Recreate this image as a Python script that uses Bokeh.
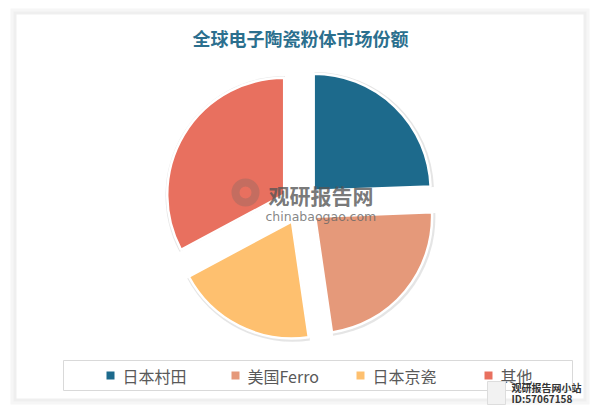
import numpy as np
from bokeh.plotting import figure
from bokeh.models import Range1d
from bokeh.core.properties import value
from bokeh.embed import file_html
from bokeh.resources import INLINE

title = "全球电子陶瓷粉体市场份额"
categories = ["日本村田", "美国Ferro", "日本京瓷", "其他"]
shares = [24.4, 23.3, 19.5, 32.8]
colors = ["#1d6a8c", "#e5997a", "#fec06f", "#e8705f"]
watermark_main = "观研报告网"
watermark_sub = "chinabaogao.com"
corner_lines = ["观研报告网小站", "ID:57067158"]

FONT = "Noto Sans CJK SC"
W, H = 592, 405
p = figure(width=W, height=H, x_range=Range1d(0, W), y_range=Range1d(413 - H, 413),
           output_backend="svg", toolbar_location=None, min_border=0,
           x_axis_location=None, y_axis_location=None)
p.grid.visible = False
p.outline_line_color = None
p.background_fill_color = "white"
p.border_fill_color = "white"


def Y(py):
    return 413 - py


# card with soft shadow
p.quad(left=[10], right=[589], top=[Y(8)], bottom=[Y(404)], fill_color="#f6f6f6", line_color=None)
p.quad(left=[13], right=[586], top=[Y(11)], bottom=[Y(401)], fill_color="#efefef", line_color=None)
p.quad(left=[16], right=[583], top=[Y(14)], bottom=[Y(398)], fill_color="white", line_color=None)

# title
p.text(x=[300], y=[Y(37)], text=[title], text_align="center", text_baseline="middle",
       text_font=value(FONT), text_font_style="bold", text_font_size="18px", text_color="#2b6f8e")

# exploded pie
fr = np.array(shares, dtype=float) / np.sum(shares)
cum = np.concatenate([[0.0], np.cumsum(fr)])
start = np.pi / 2 - cum[:-1] * 2 * np.pi
end = np.pi / 2 - cum[1:] * 2 * np.pi
mid = (start + end) / 2
cx, cy, r, d = 300, Y(204), 117, 19
xs = cx + d * np.cos(mid)
ys = cy + d * np.sin(mid)

p.wedge(x=xs + 0.8, y=ys - 0.8, radius=r + 2.5, start_angle=start, end_angle=end, direction="clock",
        fill_color="#cfcfcf", fill_alpha=0.55, line_color=None)
p.wedge(x=xs, y=ys, radius=r, start_angle=start, end_angle=end, direction="clock",
        fill_color=colors, line_color="white", line_width=2.5)

# watermark
p.annulus(x=[245], y=[Y(192)], inner_radius=6, outer_radius=14, fill_color="#9a6b62", fill_alpha=0.45, line_color=None)
p.text(x=[268], y=[Y(194)], text=[watermark_main], text_align="left", text_baseline="middle",
       text_font=value(FONT), text_font_style="bold", text_font_size="21px", text_color="#555555", text_alpha=0.8)
p.text(x=[265], y=[Y(216)], text=[watermark_sub], text_align="left", text_baseline="middle",
       text_font=value("DejaVu Sans"), text_font_size="12.5px", text_color="#666666", text_alpha=0.8)

# legend
p.quad(left=[63], right=[572], top=[Y(360)], bottom=[Y(390)], fill_color="white", line_color="#d9d9d9", line_width=1)
leg_x = [110, 235, 360, 488]
leg_y = [Y(375)] * 4
p.scatter(x=leg_x, y=leg_y, marker="square", size=8, fill_color=colors, line_color=None)
p.text(x=[v + 12 for v in leg_x], y=leg_y, text=categories, text_align="left", text_baseline="middle",
       text_font=value(FONT), text_font_size="16px", text_color="#595959")

# corner badge
p.quad(left=[487], right=[505], top=[Y(381)], bottom=[Y(404)], fill_color="#f2f2f2", line_color="#dddddd")
p.text(x=[511, 511], y=[Y(387), Y(398)], text=corner_lines, text_align="left", text_baseline="middle",
       text_font=value(FONT), text_font_style="bold", text_font_size="10px", text_color="#333333")

open("out.html", "w").write(file_html(p, INLINE))
